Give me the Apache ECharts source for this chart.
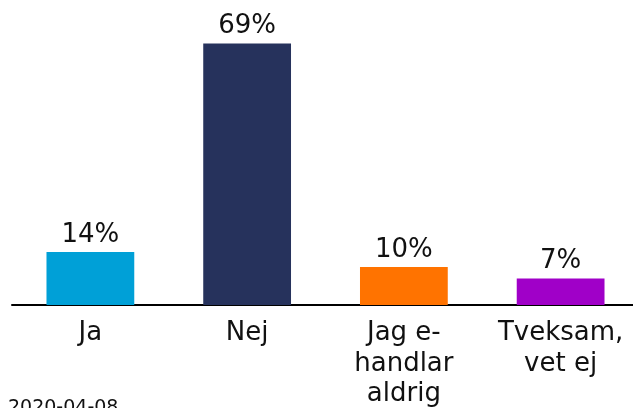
<!DOCTYPE html>
<html>
<head>
<meta charset="utf-8">
<script src="https://cdn.jsdelivr.net/npm/echarts@6/dist/echarts.min.js"></script>
<style>
  html, body { margin: 0; padding: 0; background: #fff; }
  #chart { width: 633px; height: 408px; }
</style>
</head>
<body>
<div id="chart"></div>
<script>
// Survey answers (share of respondents, %)
const categories = ['Ja', 'Nej', 'Jag e-\nhandlar\naldrig', 'Tveksam,\nvet ej'];
const values = [14, 69, 10, 7];
const barColors = ['#00a0d7', '#26325c', '#ff7300', '#a000c8'];
const dateText = '2020-04-08';

const FONT = 'DejaVu Sans, Verdana, sans-serif';

const chart = echarts.init(document.getElementById('chart'), null, { renderer: 'canvas' });
chart.setOption({
  animation: false,
  backgroundColor: '#ffffff',
  grid: { left: 12, width: 627, top: 43.4, bottom: 103, outerBoundsMode: 'none', containLabel: false },
  xAxis: {
    type: 'category',
    data: categories,
    axisLine: { show: true, lineStyle: { color: '#000', width: 2 } },
    axisTick: { show: false },
    axisLabel: {
      interval: 0,
      color: '#111',
      fontFamily: FONT,
      fontSize: 26,
      lineHeight: 30.5,
      margin: 13
    }
  },
  yAxis: {
    type: 'value',
    min: 0,
    max: 69,
    show: false,
    splitLine: { show: false }
  },
  series: [{
    type: 'bar',
    barWidth: '56%',
    data: values.map((v, i) => ({ value: v, itemStyle: { color: barColors[i] } })),
    label: {
      show: true,
      position: 'top',
      distance: 4,
      formatter: p => p.value + '%',
      color: '#111',
      fontFamily: FONT,
      fontSize: 26
    }
  }],
  graphic: [{
    type: 'text',
    left: 8,
    top: 399,
    style: { text: dateText, fill: '#111', font: '19px ' + FONT }
  }]
});
</script>
</body>
</html>
